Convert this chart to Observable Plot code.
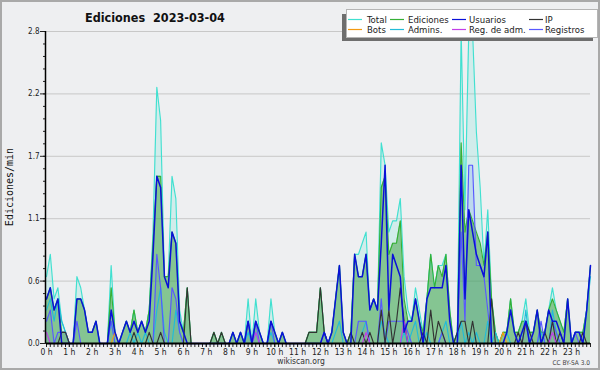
<!DOCTYPE html>
<html><head><meta charset="utf-8">
<script src="https://cdn.jsdelivr.net/npm/d3@7"></script>
<script src="https://cdn.jsdelivr.net/npm/@observablehq/plot@0.6"></script>
<style>
html,body{margin:0;padding:0;background:#eeeff1;}
#wrap{position:relative;width:600px;height:370px;overflow:hidden;background:#eeeff1;}
#chart{position:absolute;left:0;top:0;}
#overlay{position:absolute;left:0;top:0;pointer-events:none;}
#overlay text{white-space:pre;}
#frame{position:absolute;left:0;top:0;width:600px;height:370px;box-sizing:border-box;border:2px solid #a9a9a9;pointer-events:none;}
</style></head><body>
<div id="wrap"><div id="chart"></div><svg id="overlay" width="600" height="370"></svg><div id="frame"></div></div>
<script>
// Counts per 10-minute slot (144 slots, 00:00 .. 23:50); rate per minute = count / 10
const total = [
6,8,4,5,2,1, 0,0,6,5,3,1, 1,2,0,0,0,7, 1,0,1,2,1,3,
1,2,1,3,10,23, 20,6,6,15,13,3, 1,5,0,0,0,0, 0,0,1,0,1,0,
0,1,0,1,0,4, 0,4,1,0,0,4, 1,0,1,0,0,0, 0,0,0,1,1,1,
5,1,0,1,4,7, 1,0,1,8,8,9, 10,3,4,3,18,16, 10,11,11,13,6,3,
2,5,3,1,4,8, 5,7,7,8,3,0, 1,28,12,28,28,19, 14,7,12,4,1,0,
1,1,4,1,1,2, 4,1,1,3,1,1, 3,5,3,2,1,4, 0,1,1,1,3,7];
const ediciones = [
4,5,3,4,1,1, 0,0,4,4,3,1, 1,2,0,0,0,5, 1,0,1,2,1,3,
1,2,1,3,9,15, 15,6,6,10,9,2, 1,5,0,0,0,0, 0,0,1,0,1,0,
0,1,0,1,0,2, 0,2,1,0,0,2, 1,0,1,0,0,0, 0,0,0,1,1,1,
5,1,0,1,4,7, 1,0,1,8,6,6, 8,3,4,3,14,15, 8,9,9,11,4,2,
2,4,2,1,4,8, 5,7,6,8,3,0, 1,18,10,12,11,10, 9,7,10,4,1,0,
1,1,4,1,1,2, 2,1,1,3,1,1, 3,4,3,2,1,4, 0,1,1,1,3,7];
const usuarios = [
4,5,3,4,0,0, 0,0,4,4,3,1, 1,2,0,0,0,3, 1,0,1,2,1,2,
1,2,1,2,8,15, 14,6,5,10,9,2, 1,0,0,0,0,0, 0,0,0,0,0,0,
0,1,0,1,0,2, 0,2,1,0,0,2, 1,0,1,0,0,0, 0,0,0,0,0,0,
0,1,0,1,4,7, 1,0,0,8,6,6, 8,3,4,3,9,16, 3,8,7,6,1,2,
2,4,2,0,4,5, 5,5,5,7,2,0, 0,16,4,12,10,8, 7,6,10,0,0,0,
0,1,3,1,0,1, 2,0,1,3,0,1, 3,2,2,1,0,4, 0,1,1,0,3,7];
const ip = [
0,0,0,0,1,1, 0,0,0,0,0,0, 0,0,0,0,0,0, 0,0,0,0,0,1,
0,0,0,1,0,0, 1,0,0,0,0,0, 0,5,0,0,0,0, 0,0,1,0,1,0,
0,0,0,0,0,0, 0,0,0,0,0,0, 0,0,0,0,0,0, 0,0,0,1,1,1,
5,1,0,0,0,0, 0,0,1,0,0,1, 0,1,0,0,3,0, 3,0,2,5,2,0,
0,0,0,1,0,3, 0,2,1,0,0,0, 1,2,2,0,2,0, 0,0,0,4,0,0,
0,0,0,0,1,0, 2,1,0,0,0,1, 0,2,0,1,0,0, 0,0,0,1,0,0];
const bots = [
0,0,0,0,0,0, 0,0,0,0,0,0, 0,0,0,0,0,0, 1,0,0,0,0,0,
0,0,0,0,0,0, 0,0,0,0,0,0, 0,0,0,0,0,0, 0,0,0,0,0,0,
0,0,0,0,0,0, 0,0,0,0,0,0, 0,0,0,0,0,0, 0,0,0,0,0,0,
0,0,0,0,0,0, 0,0,0,0,0,0, 0,0,0,0,0,0, 0,0,0,0,0,0,
0,0,0,0,0,0, 0,0,0,0,0,0, 0,0,0,0,0,0, 0,0,0,0,0,0,
1,0,0,0,0,0, 0,0,0,0,0,0, 0,0,0,0,0,0, 0,0,0,0,0,0];
const admins = [
3,4,2,4,2,1, 0,0,0,0,0,0, 0,0,0,0,0,2, 0,0,0,0,1,0,
1,0,1,0,0,3, 5,1,0,0,3,1, 0,0,0,0,0,0, 0,0,0,0,0,0,
0,0,0,0,0,1, 0,1,0,0,0,1, 0,0,0,0,0,0, 0,0,0,0,0,0,
0,0,0,0,1,2, 0,0,0,0,0,1, 2,0,0,0,2,1, 0,0,0,0,1,0,
1,2,0,0,1,0, 0,0,1,2,0,0, 0,2,0,1,0,1, 0,0,2,0,1,0,
0,1,0,0,0,0, 3,0,0,0,1,0, 0,3,1,0,0,0, 0,1,1,0,3,6];
const regAdm = [
1,0,0,0,0,0, 0,0,0,0,0,0, 0,0,0,0,0,0, 0,0,0,0,0,0,
0,0,0,0,0,0, 0,0,0,0,0,0, 0,0,0,0,0,0, 0,0,0,0,0,0,
0,0,0,0,0,0, 0,1,0,0,0,0, 0,0,0,0,0,0, 0,0,0,0,0,0,
0,0,0,0,0,0, 0,0,0,0,0,0, 1,0,0,0,0,0, 0,0,0,0,2,0,
0,0,0,0,0,0, 0,0,0,0,0,0, 0,0,0,0,0,0, 0,0,0,0,0,0,
0,0,0,0,0,0, 0,0,0,0,0,0, 0,1,0,0,0,0, 0,0,0,0,0,0];
const registros = [
2,3,0,1,1,1, 0,0,2,0,0,0, 0,0,0,0,0,2, 0,0,0,0,0,0,
0,0,0,0,0,8, 5,0,0,5,4,1, 0,0,0,0,0,0, 0,0,0,0,0,0,
0,0,0,0,0,2, 0,2,0,0,0,2, 0,0,0,0,0,0, 0,0,0,0,0,0,
0,1,0,0,0,0, 0,0,0,0,2,2, 2,0,0,0,4,0, 2,2,2,2,2,1,
0,0,0,0,0,0, 0,0,1,0,0,0, 0,10,2,16,16,7, 7,6,3,0,0,0,
0,0,0,0,0,0, 2,0,0,0,2,0, 0,2,1,0,0,0, 0,1,0,0,0,0];

const hourLabels = ["0 h","1 h","2 h","3 h","4 h","5 h","6 h","7 h","8 h","9 h","10 h","11 h",
  "12 h","13 h","14 h","15 h","16 h","17 h","18 h","19 h","20 h","21 h","22 h","23 h"];
const yTickValues = [0, 0.56, 1.12, 1.68, 2.24, 2.8];
const yTickLabels = ["0.0","0.6","1.1","1.7","2.2","2.8"];
const seriesNames = ["Total","Ediciones","Usuarios","IP","Bots","Admins.","Reg. de adm.","Registros"];
const seriesColors = ["#40e0d0","#36b036","#0a10d8","#333333","#f39a12","#22bcd8","#c23ee8","#5858ff"];
const titleText = "Ediciones  2023-03-04";
const yLabel = "Ediciones/min";

const COND = '"DejaVu Sans Condensed","DejaVu Sans",sans-serif';
const col = Object.fromEntries(seriesNames.map((n, i) => [n, seriesColors[i]]));
const seriesData = {"Total": total, "Ediciones": ediciones, "Usuarios": usuarios, "IP": ip,
  "Bots": bots, "Admins.": admins, "Reg. de adm.": regAdm, "Registros": registros};
const rows = total.map((_, slot) => {
  const r = {slot};
  for (const n of seriesNames) r[n] = seriesData[n][slot] / 10;
  return r;
});
const slots = rows.map(r => r.slot);
const hourSlots = hourLabels.map((_, h) => h * 6);
const minorTicks = d3.range(0, 2.8001, 0.112);
const lineOrder = ["Total","Ediciones","Admins.","Registros","IP","Bots","Reg. de adm.","Usuarios"];

const chart = Plot.plot({
  width: 600, height: 370,
  marginLeft: 46, marginRight: 10, marginTop: 31, marginBottom: 27,
  style: {background: "transparent", fontFamily: COND, fontSize: "8px", color: "#222"},
  x: {domain: [0, 143]},
  y: {domain: [0, 2.8]},
  marks: [
    Plot.ruleY(yTickValues.slice(1), {stroke: "#c8c8c8", strokeWidth: 1}),
    Plot.areaY(rows, {x: "slot", y: "Total", fill: col["Total"], fillOpacity: 0.17}),
    Plot.areaY(rows, {x: "slot", y: "Registros", fill: "#5a78ff", fillOpacity: 0.16}),
    Plot.areaY(rows, {x: "slot", y: "Ediciones", fill: "#3a9e3a", fillOpacity: 0.5}),
    ...lineOrder.map(k => Plot.lineY(rows, {x: "slot", y: k, stroke: col[k],
       strokeWidth: k === "Usuarios" ? 1.5 : 1.15})),
    Plot.axisY(minorTicks, {tickSize: 3, tickFormat: () => "", label: null}),
    Plot.axisY(yTickValues, {tickSize: 6, tickPadding: 1, fontSize: 8, label: null,
       tickFormat: d => yTickLabels[yTickValues.indexOf(d)]}),
    Plot.axisX(slots, {tickSize: 4, tickFormat: () => "", label: null}),
    Plot.axisX(hourSlots, {tickSize: 4, tickPadding: 1, fontSize: 8.5, label: null,
       tickFormat: d => hourLabels[d / 6]}),
    Plot.ruleY([0], {stroke: "#000", strokeWidth: 2}),
    Plot.ruleX([0], {stroke: "#000", strokeWidth: 1.5, dx: -1})
  ]
});
document.getElementById("chart").appendChild(chart);

// Title, axis label, legend, footer
const ov = d3.select("#overlay");
ov.append("text").attr("x", 85).attr("y", 22).attr("font-family", COND)
  .attr("font-size", 12.5).attr("font-weight", "bold").attr("fill", "#111").text(titleText);
ov.append("text").attr("transform", "translate(13,187) rotate(-90)").attr("text-anchor", "middle")
  .attr("font-family", '"DejaVu Sans Mono",monospace').attr("font-size", 10).attr("fill", "#111").text(yLabel);
ov.append("text").attr("x", 301).attr("y", 364).attr("text-anchor", "middle").attr("font-family", COND)
  .attr("font-size", 8.5).attr("fill", "#333").text("wikiscan.org");
ov.append("text").attr("x", 590).attr("y", 365).attr("text-anchor", "end").attr("font-family", COND)
  .attr("font-size", 6.5).attr("fill", "#444").text("CC BY-SA 3.0");

ov.append("rect").attr("x", 342).attr("y", 14).attr("width", 251).attr("height", 27).attr("fill", "#6e6e6e");
ov.append("rect").attr("x", 346.5).attr("y", 9.5).attr("width", 251).attr("height", 28)
  .attr("fill", "#fff").attr("stroke", "#b5b5b5");
const lineX = [348, 390, 452, 529], textX = [367, 408, 469, 545], rowY = [19.5, 29.5];
seriesNames.forEach((n, i) => {
  const c = i % 4, r = Math.floor(i / 4);
  ov.append("line").attr("x1", lineX[c]).attr("x2", lineX[c] + 14).attr("y1", rowY[r]).attr("y2", rowY[r])
    .attr("stroke", seriesColors[i]).attr("stroke-width", 1.2);
  ov.append("text").attr("x", textX[c]).attr("y", rowY[r] + 3.3).attr("font-family", COND)
    .attr("font-size", 9.5).attr("fill", "#222").text(n);
});
</script>
</body></html>
